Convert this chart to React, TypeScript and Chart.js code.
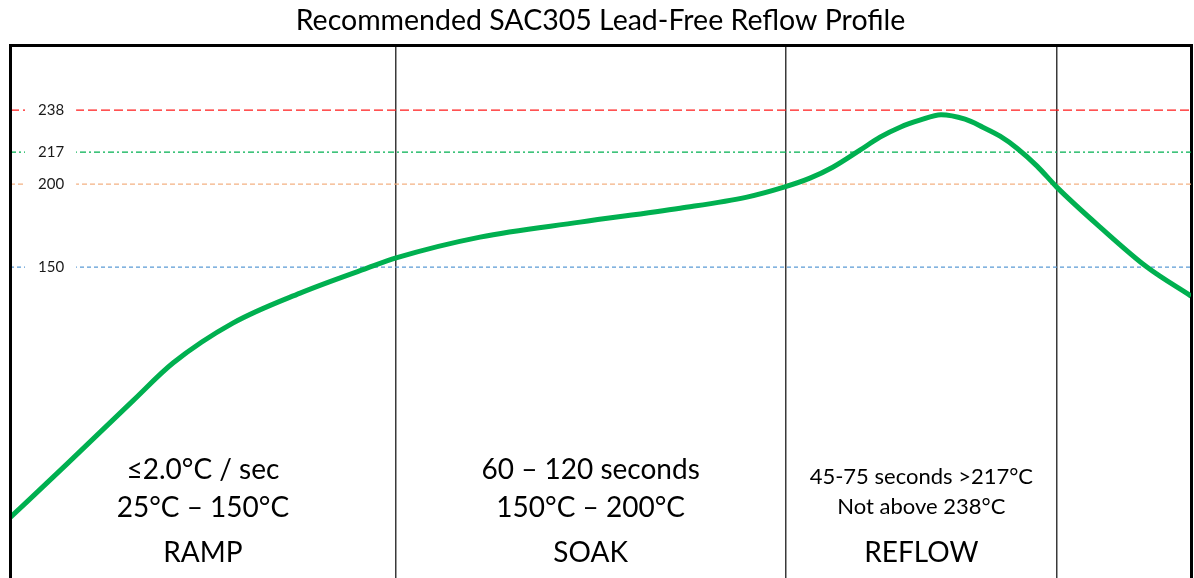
import React, { useEffect, useRef } from 'react';
import { Chart, LinearScale, registerables } from 'chart.js';

Chart.register(...registerables);

const TITLE = 'Recommended SAC305 Lead-Free Reflow Profile';

// Profile curve (time in s, temperature in °C)
const timeSec = [0, 14.5, 31.2, 41.4, 56.6, 73.7, 90.7, 98.3, 119.4, 144.8, 170.2, 187.2, 196.6, 203.2, 209, 215.9, 221, 226.1, 231.1, 236.5, 242.6, 247.1, 251.5, 255.8, 260.9, 265.9, 276.9, 288.8, 300];
const tempC = [8.1, 38.6, 74.3, 95.7, 118.3, 135.3, 149.4, 155.7, 168.1, 177.1, 185.5, 192.2, 198.2, 203.2, 209, 218, 224.5, 229.5, 233, 235.75, 233.5, 229.5, 225, 219, 209.6, 198.2, 174.1, 150, 133.6];

// Guide lines
const guideTemps = [238, 217, 200, 150];
const guideColors = ['#FF1A1A', '#00B050', '#F4B183', '#5B9BD5'];
const guideDashes = [[9, 4], [6, 3, 2, 3], [5, 3], [4, 3]];

// Temperature axis: the diagram spaces its guide temperatures unevenly
const scaleKnotTemps = [-26, 150, 200, 217, 238, 270.5];
const scaleKnotFrac = [0, 0.5835, 0.7392, 0.7992, 0.878, 1];

// Zone boundaries (s)
const zoneEdges = [98, 197, 266];
const zoneNames = ['RAMP', 'SOAK', 'REFLOW'];
const zoneLine1 = ['≤2.0°C / sec', '60 – 120 seconds', '45-75 seconds >217°C'];
const zoneLine2 = ['25°C – 150°C', '150°C – 200°C', 'Not above 238°C'];

const X_MIN = 0;
const X_MAX = 300;
const Y_MIN = scaleKnotTemps[0];
const Y_MAX = scaleKnotTemps[scaleKnotTemps.length - 1];

const FONT = 'Lato';

function interp(v: number, xs: number[], ys: number[]) {
  const n = xs.length - 1;
  let i = 1;
  while (i < n && v > xs[i]) i++;
  return ys[i - 1] + ((v - xs[i - 1]) * (ys[i] - ys[i - 1])) / (xs[i] - xs[i - 1]);
}

class GuideScale extends (LinearScale as any) {
  static id = 'guide';
  static defaults = {};
  getPixelForValue(value: any) {
    if (value === null || value === undefined || isNaN(value)) return NaN;
    return (this as any).getPixelForDecimal(interp(value, scaleKnotTemps, scaleKnotFrac));
  }
  getValueForPixel(pixel: number) {
    return interp((this as any).getDecimalForPixel(pixel), scaleKnotFrac, scaleKnotTemps);
  }
}
Chart.register(GuideScale as any);

const zoneTextPlugin = {
  id: 'zoneText',
  afterDatasetsDraw(chart: any) {
    const { ctx, chartArea, scales } = chart;
    const x = scales.x;
    const bounds = [X_MIN, ...zoneEdges];
    ctx.save();
    ctx.fillStyle = '#000';
    ctx.textAlign = 'center';
    ctx.textBaseline = 'middle';
    zoneNames.forEach((name, i) => {
      const cx = (x.getPixelForValue(bounds[i]) + x.getPixelForValue(bounds[i + 1])) / 2;
      const small = i === 2;
      ctx.font = `${small ? 22 : 28}px ${FONT}`;
      ctx.fillText(zoneLine1[i], cx, chartArea.top + (small ? 432 : 425));
      ctx.fillText(zoneLine2[i], cx, chartArea.top + (small ? 462 : 463));
      ctx.font = `28px ${FONT}`;
      ctx.fillText(name, cx, chartArea.top + 508);
    });
    ctx.restore();
  },
};

const zeroFit = (axis: any) => {
  if (axis.isHorizontal()) axis.height = 0;
  else axis.width = 0;
  axis.paddingTop = 0;
  axis.paddingBottom = 0;
  axis.paddingLeft = 0;
  axis.paddingRight = 0;
};

export default function App() {
  const ref = useRef<HTMLCanvasElement | null>(null);

  useEffect(() => {
    if (!ref.current) return;
    const guideSets = guideTemps.map((t, i) => ({
      label: `${t}`,
      data: [
        { x: X_MIN, y: t },
        { x: X_MAX, y: t },
      ],
      borderColor: guideColors[i],
      borderWidth: 1.3,
      borderDash: guideDashes[i],
      pointRadius: 0,
      order: 2,
    }));
    const chart = new Chart(ref.current, {
      type: 'line',
      data: {
        datasets: [
          {
            label: 'Profile',
            data: timeSec.map((t, i) => ({ x: t, y: tempC[i] })),
            borderColor: '#00B050',
            borderWidth: 5,
            pointRadius: 0,
            cubicInterpolationMode: 'monotone',
            order: 1,
          },
          ...guideSets,
        ],
      },
      options: {
        animation: false,
        responsive: false,
        devicePixelRatio: 1,
        layout: { padding: { left: 10, right: 3, top: 0, bottom: 0 } },
        plugins: {
          legend: { display: false },
          tooltip: { enabled: false },
          title: {
            display: true,
            text: TITLE,
            color: '#000',
            font: { family: FONT, size: 28.5, weight: 'normal' },
            padding: { top: 4, bottom: 7 },
          },
        },
        scales: {
          x: {
            type: 'linear',
            position: 'top',
            min: X_MIN,
            max: X_MAX,
            afterBuildTicks: (axis: any) => {
              axis.ticks = zoneEdges.map((v) => ({ value: v }));
            },
            afterFit: zeroFit,
            ticks: { display: false },
            grid: { color: '#3a3a3a', lineWidth: 1.5, drawTicks: false },
            border: { display: true, color: '#000', width: 3 },
          },
          y: {
            type: 'guide',
            position: 'left',
            min: Y_MIN,
            max: Y_MAX,
            afterBuildTicks: (axis: any) => {
              axis.ticks = [...guideTemps].sort((a, b) => a - b).map((v) => ({ value: v }));
            },
            afterFit: zeroFit,
            grid: { display: false, drawTicks: false },
            border: { display: true, color: '#000', width: 3, z: 2 },
            ticks: {
              z: 1,
              mirror: true,
              padding: 28,
              autoSkip: false,
              color: '#1a1a1a',
              font: { family: FONT, size: 15 },
              showLabelBackdrop: true,
              backdropColor: '#fff',
              backdropPadding: { left: 13, right: 12, top: 2, bottom: 2 },
              callback: (v: any) => String(v),
            },
          },
          y2: {
            type: 'linear',
            position: 'right',
            min: Y_MIN,
            max: Y_MAX,
            afterFit: zeroFit,
            grid: { display: false, drawTicks: false },
            ticks: { display: false },
            border: { display: true, color: '#000', width: 3 },
          },
        },
      },
      plugins: [zoneTextPlugin],
    } as any);
    return () => chart.destroy();
  }, []);

  return (
    <div style={{ position: 'fixed', left: 0, top: 0, width: 1194, height: 578, background: '#fff' }}>
      <canvas ref={ref} width={1194} height={578} />
    </div>
  );
}
